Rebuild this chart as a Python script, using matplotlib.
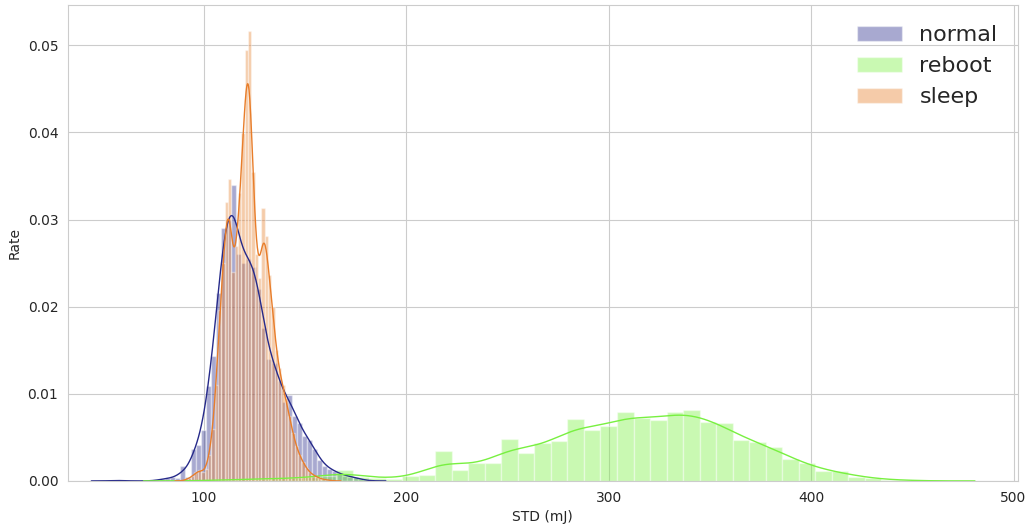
import numpy as np
import matplotlib
matplotlib.use('Agg')
import matplotlib.pyplot as plt
import seaborn as sns

# histogram data (density per bin)
normal_start, normal_width = 53.5, 2.5
normal_rate = [0.00005, 0.00005, 0.00005, 0.0, 0.0, 0.0, 0.0, 0.0, 0.0, 0.0001,
               0.0002, 0.0003, 0.0004, 0.0003, 0.0017, 0.0005, 0.0037, 0.0041, 0.0058, 0.0109,
               0.0143, 0.0216, 0.0290, 0.0300, 0.0340, 0.0260, 0.0250, 0.0255, 0.0245, 0.0220,
               0.0175, 0.0140, 0.0135, 0.0115, 0.0091, 0.0099, 0.0074, 0.0066, 0.0051, 0.0047,
               0.0037, 0.0024, 0.0017, 0.0014, 0.0011, 0.0008, 0.0006, 0.0005, 0.0004, 0.0002,
               0.0001]

reboot_start, reboot_width = 100.26, 8.155
reboot_rate = [0.0001, 0.0001, 0.0002, 0.0002, 0.0003, 0.0003, 0.0004, 0.0006,
               0.00126, 0.0005, 0.0003, 0.0002, 0.0006, 0.0007, 0.0034, 0.0013, 0.0020, 0.0020,
               0.0048, 0.0032, 0.0043, 0.0046, 0.0071, 0.0058, 0.0063, 0.0079, 0.0072, 0.0070,
               0.0079, 0.0081, 0.0068, 0.0067, 0.0047, 0.0045, 0.0039, 0.0025, 0.0020, 0.0011,
               0.0011, 0.0005, 0.0003, 0.0001, 0.0001]

sleep_start, sleep_width = 90.5, 1.65
sleep_rate = [0.0002, 0.0003, 0.0006, 0.0010, 0.0013, 0.0010, 0.0014, 0.0030, 0.0060, 0.0110,
              0.0196, 0.0250, 0.0320, 0.0346, 0.0240, 0.0270, 0.0330, 0.0399, 0.0495, 0.0517,
              0.0355, 0.0260, 0.0233, 0.0313, 0.0281, 0.0236, 0.0200, 0.0150, 0.0130, 0.0110,
              0.0095, 0.0075, 0.0055, 0.0040, 0.0030, 0.0022, 0.0015, 0.0010, 0.0007, 0.0005,
              0.0003, 0.0002, 0.0001, 0.0001]

series = [
    ('normal', normal_start, normal_width, normal_rate, '#262a8a', 3.0),
    ('reboot', reboot_start, reboot_width, reboot_rate, '#78f040', 10.0),
    ('sleep', sleep_start, sleep_width, sleep_rate, '#e87d2a', 1.55),
]


def kde_from_hist(start, width, rate, bw):
    # gaussian smoothing of the binned densities
    rate = np.asarray(rate)
    centers = start + width * (np.arange(len(rate)) + 0.5)
    w = rate * width
    grid = np.linspace(start - 3 * bw, start + width * len(rate) + 3 * bw, 400)
    k = np.exp(-0.5 * ((grid[:, None] - centers[None, :]) / bw) ** 2)
    dens = (k * w[None, :]).sum(axis=1) / (bw * np.sqrt(2 * np.pi))
    return grid, dens / w.sum()


sns.set_style('whitegrid')

fig = plt.figure(figsize=(10.31, 5.25), dpi=100)
ax = fig.add_axes([0.066, 0.084, 0.921, 0.906])

for name, start, width, rate, color, bw in series:
    edges = start + width * np.arange(len(rate))
    ax.bar(edges, rate, width=width, align='edge', color=color, alpha=0.4,
           edgecolor='white', linewidth=1.0, label=name)
    gx, gy = kde_from_hist(start, width, rate, bw)
    ax.plot(gx, gy, color=color, lw=1.0)

ax.set_xlim(33, 502)
ax.set_ylim(0, 0.0546)
ax.set_xlabel('STD (mJ)', fontsize=10)
ax.set_ylabel('Rate', fontsize=10)
ax.tick_params(labelsize=10)
ax.legend(fontsize=16, loc='upper right', frameon=False)

fig.savefig('out.png', dpi=100)
